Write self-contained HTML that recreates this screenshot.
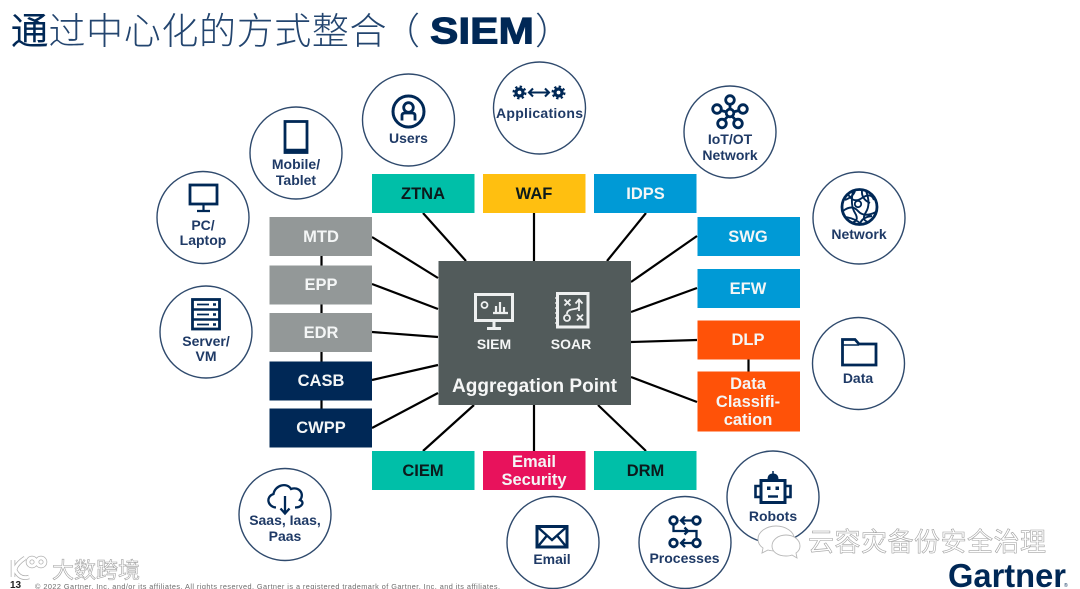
<!DOCTYPE html>
<html><head><meta charset="utf-8"><style>
html,body{margin:0;padding:0;background:#fff;width:1080px;height:589px;overflow:hidden}
svg{display:block;filter:blur(.35px)}
text{font-family:"Liberation Sans","Noto Sans CJK SC",sans-serif}
.c{fill:#fff;stroke:#2f4a6d;stroke-width:1.4}
.l{font-weight:700;font-size:14px;fill:#1f3a66;text-anchor:middle}
.b{font-weight:700;font-size:16.5px;text-anchor:middle}
.w{fill:#f4f6f6}.k{fill:#0c1a1c}
.i{fill:none;stroke:#002856;stroke-width:2.8}
.s{fill:none;stroke:#eef0f0;stroke-width:3}
.wm{fill:#fff;stroke:#a2a2a2;stroke-width:.6;font-family:"Noto Sans CJK SC",sans-serif}
.t{font-family:"Noto Sans CJK SC",sans-serif;font-weight:300}
</style></head><body>
<svg width="1080" height="589" viewBox="0 0 1080 589" xmlns="http://www.w3.org/2000/svg">
<rect width="1080" height="589" fill="#fff"/>
<!-- title -->
<text class="t" x="11" y="44" font-size="37" fill="#002856" stroke="#002856" stroke-width=".9">通</text>
<text class="t" x="48.500" y="44" font-size="37" fill="#23456f" textLength="338">过中心化的方式整合</text>
<text class="t" x="383" y="44" font-size="37" fill="#23456f">（</text>
<text x="430" y="43.500" font-size="37" font-weight="700" fill="#002856" stroke="#002856" stroke-width="1" textLength="104" lengthAdjust="spacingAndGlyphs">SIEM</text>
<text class="t" x="535" y="44" font-size="37" fill="#23456f">）</text>

<!-- connectors -->
<g stroke="#000" stroke-width="2.2" fill="none">
<path d="M423 213L466 261M534 213V261M646 213L607 261"/>
<path d="M372 237L438 278M372 284L438 309M372 332L438 337M372 380L438 365M372 428L438 393"/>
<path d="M697 236L631 282M697 288L631 312M697 340L631 342M697 402L631 377"/>
<path d="M423 451L474 405M534 451V405M646 451L598 405"/>
<path d="M321.500 256V266M321.500 304V314M321.500 352V362M321.500 400V410M748.500 359V372"/>
</g>

<!-- boxes -->
<rect x="372" y="174" width="102.500" height="39" fill="#00bfa8"/>
<rect x="483" y="174" width="102.500" height="39" fill="#ffbf10"/>
<rect x="594" y="174" width="102.500" height="39" fill="#009ad6"/>
<rect x="269.500" y="217" width="102.500" height="39" fill="#939898"/>
<rect x="269.500" y="265.500" width="102.500" height="39" fill="#939898"/>
<rect x="269.500" y="313" width="102.500" height="39" fill="#939898"/>
<rect x="269.500" y="361.500" width="102.500" height="39" fill="#002856"/>
<rect x="269.500" y="408.500" width="102.500" height="39" fill="#002856"/>
<rect x="697.500" y="217" width="102.500" height="39" fill="#009ad6"/>
<rect x="697.500" y="269" width="102.500" height="39" fill="#009ad6"/>
<rect x="697.500" y="320.500" width="102.500" height="39" fill="#ff5208"/>
<rect x="697.500" y="371.500" width="102.500" height="60" fill="#ff5208"/>
<rect x="372" y="451" width="102.500" height="39" fill="#00bfa8"/>
<rect x="483" y="451" width="102.500" height="39" fill="#e8125c"/>
<rect x="594" y="451" width="102.500" height="39" fill="#00bfa8"/>
<rect x="438.500" y="261" width="192.500" height="144" fill="#525b5b"/>

<g class="b">
<text class="b k" x="423" y="199">ZTNA</text>
<text class="b k" x="534" y="199">WAF</text>
<text class="b w" x="645.500" y="199">IDPS</text>
<text class="b w" x="321" y="242">MTD</text>
<text class="b w" x="321" y="290">EPP</text>
<text class="b w" x="321" y="338">EDR</text>
<text class="b w" x="321" y="386">CASB</text>
<text class="b w" x="321" y="433">CWPP</text>
<text class="b w" x="748" y="242">SWG</text>
<text class="b w" x="748" y="294">EFW</text>
<text class="b w" x="748" y="345">DLP</text>
<text class="b w" x="748" y="389">Data</text>
<text class="b w" x="748" y="407">Classifi-</text>
<text class="b w" x="748" y="425">cation</text>
<text class="b k" x="423" y="476">CIEM</text>
<text class="b w" x="534" y="467">Email</text>
<text class="b w" x="534" y="485">Security</text>
<text class="b k" x="645.500" y="476">DRM</text>
</g>

<!-- centre -->
<g class="s">
<rect x="475.500" y="294.500" width="37" height="26"/>
<path d="M494 321V328M487 328.500H501"/>
<circle cx="484.500" cy="305" r="3" stroke-width="1.800"/>
<path d="M496 312V306M500 312V302M504 312V307M493 313H508" stroke-width="2.200"/>
<rect x="557.500" y="293.500" width="30.500" height="33.500"/>
<path d="M555 298h3M555 303h3M555 308h3M555 313h3M555 318h3M555 323h3" stroke-width="1.300"/>
<path d="M564.500 299.500l6 6M570.500 299.500l-6 6M577 314.500l6 6M583 314.500l-6 6" stroke-width="1.900"/>
<circle cx="567" cy="318" r="3" stroke-width="1.800"/>
<path d="M579 311V300M575.500 303.500L579 299.500L582.500 303.500M579 306c0 5-12 1-12 8" stroke-width="1.800"/>
</g>
<text x="494" y="349" font-size="14" font-weight="700" fill="#f4f6f6" text-anchor="middle">SIEM</text>
<text x="571" y="349" font-size="14" font-weight="700" fill="#f4f6f6" text-anchor="middle">SOAR</text>
<text x="534.500" y="392" font-size="19" font-weight="700" fill="#f6f7f7" text-anchor="middle" textLength="165">Aggregation Point</text>

<!-- circles -->
<circle class="c" cx="203" cy="217.500" r="46"/>
<circle class="c" cx="206" cy="332" r="46"/>
<circle class="c" cx="296" cy="153" r="46"/>
<circle class="c" cx="408.500" cy="120" r="46"/>
<circle class="c" cx="539.500" cy="108" r="46"/>
<circle class="c" cx="730" cy="132" r="46"/>
<circle class="c" cx="859" cy="218" r="46"/>
<circle class="c" cx="858.500" cy="363.500" r="46"/>
<circle class="c" cx="285" cy="514.500" r="46"/>
<circle class="c" cx="773" cy="497" r="46"/>
<circle class="c" cx="553" cy="542.500" r="46"/>
<circle class="c" cx="685" cy="542.500" r="46"/>

<text class="l" x="203" y="230">PC/</text><text class="l" x="203" y="245">Laptop</text>
<text class="l" x="206" y="346">Server/</text><text class="l" x="206" y="361">VM</text>
<text class="l" x="296" y="169">Mobile/</text><text class="l" x="296" y="185">Tablet</text>
<text class="l" x="408.500" y="143">Users</text>
<text class="l" x="539.500" y="118" textLength="87">Applications</text>
<text class="l" x="730" y="144">IoT/OT</text><text class="l" x="730" y="160">Network</text>
<text class="l" x="859" y="239">Network</text>
<text class="l" x="858" y="383">Data</text>
<text class="l" x="285" y="525">Saas, Iaas,</text><text class="l" x="285" y="541">Paas</text>
<text class="l" x="773" y="521">Robots</text>
<text class="l" x="552" y="564">Email</text>
<text class="l" x="684.500" y="563">Processes</text>

<!-- icons -->
<g class="i">
<!-- pc -->
<rect x="190" y="185" width="27" height="19"/><path d="M203.500 204V210M197 211H210" stroke-width="2.200"/>
<!-- server -->
<rect x="192.500" y="299.500" width="27" height="29.500"/><path d="M192.500 309.500H219.500M192.500 319.500H219.500" stroke-width="2.400"/>
<path d="M197 304.500H209M197 314.500H209M197 324.500H209" stroke-width="1.800"/>
<path d="M213 304.500h3M213 314.500h3M213 324.500h3" stroke-width="2.400"/>
<!-- tablet -->
<rect x="285" y="121.500" width="22" height="31" stroke-width="2.800"/><path d="M285 151H307" stroke-width="4.500"/>
<!-- user -->
<circle cx="408.500" cy="111.500" r="15.500" stroke-width="3"/><circle cx="408.500" cy="107.500" r="4.800"/><path d="M402 120.500V115.500Q402 113 405 113H412Q415 113 415 115.500V120.500"/>
<!-- apps -->
<circle cx="519.500" cy="92.500" r="3.500" stroke-width="3.200"/><circle cx="558.500" cy="92.500" r="3.500" stroke-width="3.200"/>
<circle cx="519.500" cy="92.500" r="5.800" stroke-width="2.400" stroke-dasharray="2.300 2.250"/><circle cx="558.500" cy="92.500" r="5.800" stroke-width="2.400" stroke-dasharray="2.300 2.250"/>
<path d="M529 92.500H549M533 88.500L529 92.500L533 96.500M545 88.500L549 92.500L545 96.500" stroke-width="2.100"/>
<!-- iot -->
<circle cx="730" cy="113" r="3.800"/><circle cx="730" cy="100" r="4.300"/><circle cx="717" cy="109" r="4.300"/><circle cx="743" cy="109" r="4.300"/><circle cx="722" cy="123.500" r="4.300"/><circle cx="738" cy="123.500" r="4.300"/>
<path d="M730 104V110M721 110.500L727 112M739 110.500L733 112M724.500 120L728 116M735.500 120L732 116"/>
<!-- network -->
<circle cx="859.500" cy="207" r="17.500"/>
<path d="M848 194Q853 204 862 198T874 200M843 211Q852 204 858 211T876 212M853 191Q850 205 855 213T851 223M866 191Q871 204 866 212T868 222M845 200Q853 197 855 191M846 217Q856 219 861 224M872 216Q862 217 860 224M862 190Q861 199 870 203" stroke-width="1.900"/>
<circle cx="858" cy="204" r="3.200" stroke-width="1.800"/>
<!-- folder -->
<path d="M842.500 365V339.500H855L859 344H876V365Z" stroke-width="2.800"/><path d="M842.500 345H859" stroke-width="1.400"/>
<!-- cloud -->
<path d="M276 507.500C268 507 265 497 273.500 494C275 485 287 482 291 489C299 486 305 494 300 500C305 502 302 507.500 295 507.500M285 496V513M280.500 508.500L285 513.500L289.500 508.500" stroke-width="2.300"/>
<!-- robot -->
<rect x="761" y="480.500" width="24" height="22" stroke-width="3"/><path d="M760 486H755.500V497H760M786 486H790.500V497H786" stroke-width="2.600"/>
<path d="M768 479.500Q768 474 773 474Q778 474 778 479.500Z" fill="#002856" stroke-width="1"/><path d="M773 471v3" stroke-width="1.500"/>
<rect x="767" y="486.500" width="3.500" height="3.500" fill="#002856" stroke="none"/><rect x="775.500" y="486.500" width="3.500" height="3.500" fill="#002856" stroke="none"/>
<path d="M768 496.500H778" stroke-width="2.400"/>
<!-- email -->
<rect x="537" y="526.500" width="30" height="20.500" stroke-width="3"/><path d="M537.500 527L552 540L566.500 527M537.500 547L547 535.500M566.500 547L557 535.500" stroke-width="2.400"/>
<!-- processes -->
<circle cx="673.500" cy="520.500" r="3.800"/><circle cx="696.500" cy="520.500" r="3.800"/><circle cx="673.500" cy="543" r="3.800"/><circle cx="696.500" cy="543" r="3.800"/>
<path d="M692 520.500H681M685 516.500L681 520.500L685 524.500M692 543H681M685 539L681 543L685 547M673.500 524V531H696.500V539M673.500 531H688M684.500 527.500L688 531L684.500 534.500" stroke-width="2.300"/>
</g>

<!-- footer -->
<text x="10" y="588" font-size="10" font-weight="700" fill="#222">13</text>
<text x="35" y="589" font-size="7.300" fill="#6d6d6d" textLength="465">© 2022 Gartner, Inc. and/or its affiliates. All rights reserved. Gartner is a registered trademark of Gartner, Inc. and its affiliates.</text>
<text x="948" y="587" font-size="33" font-weight="700" fill="#002856" textLength="118" lengthAdjust="spacingAndGlyphs">Gartner</text>
<text x="1064" y="587" font-size="5" fill="#002856">®</text>

<!-- watermarks -->
<text class="wm" x="52" y="578" font-size="22">大数跨境</text>
<g fill="none" stroke="#b0b0b0" stroke-width="4.500">
<path d="M13 560V577M25 558Q16 564 15 570Q20 580 29 577"/>
<circle cx="32" cy="562" r="4"/><circle cx="41" cy="562" r="4"/>
</g>
<g fill="none" stroke="#fff" stroke-width="3">
<path d="M13 560V577M25 558Q16 564 15 570Q20 580 29 577"/>
<circle cx="32" cy="562" r="4"/><circle cx="41" cy="562" r="4"/>
</g>
<g fill="#fff" stroke="#b8b8b8" stroke-width=".9">
<path d="M776 526c-10 0-18 6-18 13 0 4 2 7 5 9l-1 5 6-3c3 1 5 1 8 1 10 0 18-7 18-13s-8-12-18-12z"/>
<path d="M786 535c-8 0-14 5-14 11s6 10 14 10c2 0 4 0 6-1l5 3-1-5c3-2 4-4 4-7 0-6-6-11-14-11z"/>
</g>
<text class="wm" x="808" y="551" font-size="26" textLength="238">云容灾备份安全治理</text>
</svg>
</body></html>
